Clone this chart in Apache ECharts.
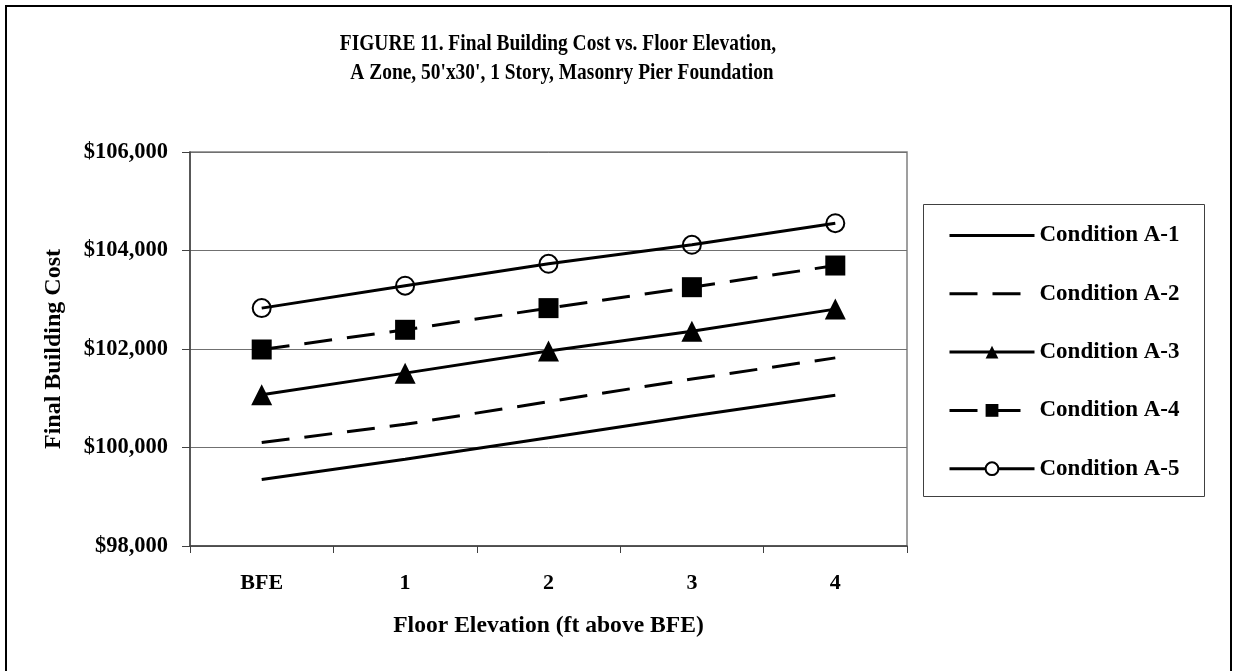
<!DOCTYPE html>
<html>
<head>
<meta charset="utf-8">
<script src="https://cdn.jsdelivr.net/npm/echarts@6/dist/echarts.min.js"></script>
<style>
html,body{margin:0;padding:0;background:#fff;}
#chart{width:1233px;height:671px;}
</style>
</head>
<body>
<div id="chart"></div>
<script>
const titleLines = ["FIGURE 11. Final Building Cost vs. Floor Elevation,", "A Zone, 50'x30', 1 Story, Masonry Pier Foundation"];
const xAxisName = "Floor Elevation (ft above BFE)";
const yAxisName = "Final Building Cost";
const categories = ["BFE", "1", "2", "3", "4"];
const seriesNames = ["Condition A-1", "Condition A-2", "Condition A-3", "Condition A-4", "Condition A-5"];
const conditionA1 = [99350, 99760, 100200, 100640, 101060];
const conditionA2 = [100100, 100470, 100930, 101390, 101820];
const conditionA3 = [101070, 101510, 101960, 102360, 102810];
const conditionA4 = [101990, 102390, 102830, 103255, 103695];
const conditionA5 = [102830, 103285, 103730, 104116, 104554];
const yMin = 98000, yMax = 106000, yStep = 2000;

const FONT = '"Liberation Serif", "Times New Roman", serif';
const chart = echarts.init(document.getElementById('chart'));

function lineSeries(name, data, dashed, symbol, size) {
  return {
    name: name,
    type: 'line',
    data: data,
    symbol: symbol,
    symbolSize: size,
    showSymbol: symbol !== 'none',
    animation: false,
    lineStyle: { color: '#000', width: 3, type: dashed ? [28, 15] : 'solid' },
    itemStyle: symbol === 'circle'
      ? { color: 'transparent', borderColor: '#000', borderWidth: 2 }
      : { color: '#000' },
    emphasis: { disabled: true }
  };
}

function legendItem(n) {
  if (n === 'Condition A-1' || n === 'Condition A-2') {
    return { name: n, itemStyle: { color: 'transparent', borderWidth: 0, opacity: 0 } };
  }
  if (n === 'Condition A-5') {
    return { name: n, itemStyle: { color: '#fff', borderColor: '#000', borderWidth: 2 } };
  }
  return { name: n };
}

chart.setOption({
  animation: false,
  backgroundColor: '#fff',
  textStyle: { fontFamily: FONT },
  graphic: [
    { type: 'rect', shape: { x: 6, y: 6, width: 1225, height: 700 }, style: { fill: 'none', stroke: '#000', lineWidth: 2 } },
    { type: 'rect', shape: { x: 923.5, y: 204.5, width: 281, height: 292 }, style: { fill: 'none', stroke: '#404040', lineWidth: 1 } },
    { type: 'text', x: 558, y: 44, scaleX: 0.81, style: { text: titleLines[0], font: 'bold 24px ' + FONT, fill: '#000', align: 'center', verticalAlign: 'middle' } },
    { type: 'text', x: 562, y: 73, scaleX: 0.81, style: { text: titleLines[1], font: 'bold 24px ' + FONT, fill: '#000', align: 'center', verticalAlign: 'middle' } }
  ],
  grid: { left: 190, right: 326, top: 152, bottom: 125, show: true, borderColor: '#808080', borderWidth: 1.5, backgroundColor: 'transparent' },
  legend: {
    orient: 'vertical',
    left: 943,
    top: 219,
    itemWidth: 85,
    itemHeight: 16,
    itemGap: 35.3,
    selectedMode: false,
    lineStyle: { width: 3 },
    textStyle: { fontFamily: FONT, fontSize: 23, fontWeight: 'bold', color: '#000', lineHeight: 22 },
    data: seriesNames.map(legendItem)
  },
  xAxis: {
    type: 'category',
    data: categories,
    boundaryGap: true,
    name: xAxisName,
    nameLocation: 'middle',
    nameGap: 68,
    nameTextStyle: { fontFamily: FONT, fontSize: 23.6, fontWeight: 'bold', color: '#000' },
    axisLine: { lineStyle: { color: '#404040', width: 1.5 } },
    axisTick: { show: true, length: 7, lineStyle: { color: '#404040' } },
    axisLabel: { margin: 26, fontFamily: FONT, fontSize: 22, fontWeight: 'bold', color: '#000' },
    splitLine: { show: false }
  },
  yAxis: {
    type: 'value',
    min: yMin,
    max: yMax,
    interval: yStep,
    name: yAxisName,
    nameLocation: 'middle',
    nameGap: 124,
    nameTextStyle: { fontFamily: FONT, fontSize: 24, fontWeight: 'bold', color: '#000' },
    axisLine: { show: true, lineStyle: { color: '#404040', width: 1.5 } },
    axisTick: { show: true, length: 8, lineStyle: { color: '#404040' } },
    axisLabel: { margin: 22, fontFamily: FONT, fontSize: 22.5, fontWeight: 'bold', color: '#000', formatter: v => '$' + v.toLocaleString('en-US') },
    splitLine: { show: true, lineStyle: { color: '#707070', width: 1 } }
  },
  series: [
    lineSeries(seriesNames[0], conditionA1, false, 'none', 0),
    lineSeries(seriesNames[1], conditionA2, true, 'none', 0),
    lineSeries(seriesNames[2], conditionA3, false, 'triangle', 21),
    lineSeries(seriesNames[3], conditionA4, true, 'rect', 20),
    lineSeries(seriesNames[4], conditionA5, false, 'circle', 18)
  ]
});
</script>
</body>
</html>
